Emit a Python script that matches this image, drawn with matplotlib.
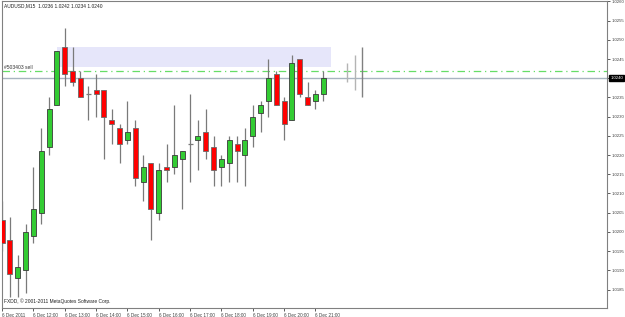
import matplotlib
matplotlib.use("Agg")
import matplotlib.pyplot as plt
from matplotlib.patches import Rectangle

plt.rcParams["font.family"] = ["Liberation Sans", "DejaVu Sans"]

# OHLC data, AUDUSD M15, 6 Dec 2011 from 11:00
opens  = [1.0203, 1.0198, 1.0188, 1.0190, 1.0199, 1.0205, 1.0222, 1.0233, 1.0248, 1.0242,
          1.0240, 1.0236, 1.0237, 1.0237, 1.0229, 1.0227, 1.0224, 1.0227, 1.0213, 1.0218,
          1.0205, 1.0217, 1.0217, 1.0219, 1.0223, 1.0224, 1.0226, 1.0222, 1.0217, 1.0218,
          1.0223, 1.0220, 1.0225, 1.0231, 1.0234, 1.0241, 1.0234, 1.0229, 1.0245, 1.0235,
          1.0234, 1.0236]
highs  = [1.0208, 1.0204, 1.0194, 1.0202, 1.0217, 1.0227, 1.0235, 1.0247, 1.0253, 1.0248,
          1.0242, 1.0238, 1.0241, 1.0237, 1.0232, 1.0228, 1.0234, 1.0229, 1.0220, 1.0218,
          1.0218, 1.0223, 1.0233, 1.0221, 1.0236, 1.0229, 1.0232, 1.0225, 1.0220, 1.0225,
          1.0225, 1.0227, 1.0233, 1.0234, 1.0245, 1.0242, 1.0235, 1.0246, 1.0245, 1.0239,
          1.0237, 1.0242]
lows   = [1.0195, 1.0183, 1.0183, 1.0184, 1.0197, 1.0202, 1.0220, 1.0233, 1.0238, 1.0238,
          1.0235, 1.0229, 1.0230, 1.0219, 1.0223, 1.0218, 1.0223, 1.0212, 1.0208, 1.0198,
          1.0203, 1.0213, 1.0215, 1.0206, 1.0213, 1.0216, 1.0219, 1.0212, 1.0212, 1.0213,
          1.0213, 1.0212, 1.0222, 1.0226, 1.0230, 1.0233, 1.0224, 1.0229, 1.0235, 1.0233,
          1.0232, 1.0234]
closes = [1.0197, 1.0189, 1.0191, 1.0200, 1.0206, 1.0221, 1.0232, 1.0247, 1.0241, 1.0239,
          1.0235, 1.0236, 1.0236, 1.0230, 1.0228, 1.0223, 1.0226, 1.0214, 1.0217, 1.0206,
          1.0216, 1.0216, 1.0220, 1.0221, 1.0223, 1.0225, 1.0221, 1.0216, 1.0219, 1.0224,
          1.0221, 1.0224, 1.0230, 1.0233, 1.0240, 1.0233, 1.0228, 1.0244, 1.0236, 1.0233,
          1.0236, 1.0240]

# extra range bars to the right
ghost_idx = [44, 45, 46]
ghost_high = [1.0244, 1.0246, 1.0248]
ghost_low = [1.0239, 1.0237, 1.0235]
ghost_colors = ["#b4b4b4", "#b4b4b4", "#808080"]

bid = 1.0240
sell_price = 1.0242
zone_low, zone_high = 1.0243, 1.0248
zone_start, zone_end = 7, 42

tick_pos = [0, 4, 8, 12, 16, 20, 24, 28, 32, 36, 40]
tick_labels = ["6 Dec 2011", "6 Dec 12:00", "6 Dec 13:00", "6 Dec 14:00", "6 Dec 15:00",
               "6 Dec 16:00", "6 Dec 17:00", "6 Dec 18:00", "6 Dec 19:00", "6 Dec 20:00",
               "6 Dec 21:00"]
yticks = [1.0185, 1.0190, 1.0195, 1.0200, 1.0205, 1.0210, 1.0215, 1.0220, 1.0225,
          1.0230, 1.0235, 1.0240, 1.0245, 1.0250, 1.0255, 1.0260]

W, H = 625, 317
fig = plt.figure(figsize=(W / 100, H / 100), dpi=100)
fig.patch.set_facecolor("white")
ax = fig.add_axes([2 / W, 9 / H, 605 / W, 307 / H])
ax.set_facecolor("white")

ax.set_xlim(0.043, 0.043 + 605 / 7.84)
ax.set_ylim(1.01802, 1.02601)

# zone rectangle
ax.add_patch(Rectangle((zone_start, zone_low), zone_end - zone_start, zone_high - zone_low,
                       facecolor="#e6e6fa", edgecolor="none", zorder=0))

# bid line and sell line
ax.axhline(bid, color="#a8b4c0", lw=1.0, zorder=1)
ax.axhline(sell_price, color="#66dd66", lw=0.9, ls=(0, (6, 3, 1, 3)), zorder=1)
ax.text(0.3, sell_price + 0.00002, "#503403 sell", fontsize=3.6, color="#333333",
        va="bottom", ha="left", zorder=5)

bw = 0.64
for i, (o, h, l, c) in enumerate(zip(opens, highs, lows, closes)):
    ax.vlines(i, l, h, color="#7a7a7a", lw=0.9, zorder=2)
    if c > o:
        ax.bar(i, c - o, bottom=o, width=bw, color="#33cc33", edgecolor="#3a3a3a",
               linewidth=0.6, zorder=3)
    elif c < o:
        ax.bar(i, o - c, bottom=c, width=bw, color="#ff0000", edgecolor="#6a6a6a",
               linewidth=0.6, zorder=3)
    else:
        ax.hlines(o, i - bw / 2, i + bw / 2, color="#7a7a7a", lw=0.9, zorder=3)

for gi, gh, gl, gc in zip(ghost_idx, ghost_high, ghost_low, ghost_colors):
    ax.vlines(gi, gl, gh, color=gc, lw=1.0, zorder=2)

# axes styling
for s in ["left", "right", "bottom", "top"]:
    ax.spines[s].set_color("#808080")
    ax.spines[s].set_linewidth(0.8)

ax.yaxis.tick_right()
ax.set_yticks(yticks)
ax.set_yticklabels(["" if abs(v - bid) < 1e-9 else f"{v:.4f}" for v in yticks])
ax.tick_params(axis="y", direction="out", length=2.5, width=0.6, colors="#404040",
               labelsize=3.1, pad=1)
ax.set_xticks(tick_pos)
ax.set_xticklabels(tick_labels)
for lbl in ax.get_xticklabels():
    lbl.set_ha("left")
ax.tick_params(axis="x", direction="out", length=2.5, width=0.6, colors="#404040",
               labelsize=3.3, pad=1)

# bid label on price scale
ax.text(1.0055, bid, f"{bid:.4f}", transform=ax.get_yaxis_transform(), fontsize=3.1,
        color="white", va="center", ha="left",
        bbox=dict(boxstyle="square,pad=0.2", facecolor="black", edgecolor="black"),
        zorder=10, clip_on=False)

# header and footer
ax.text(0.004, 0.992, "AUDUSD,M15  1.0236 1.0242 1.0234 1.0240", transform=ax.transAxes,
        fontsize=3.5, color="#222222", va="top", ha="left")
ax.text(0.003, 0.012, "FXDD, \u00a9 2001-2011 MetaQuotes Software Corp.", transform=ax.transAxes,
        fontsize=3.5, color="#222222", va="bottom", ha="left")

fig.savefig("out.png", dpi=100, facecolor="white")
